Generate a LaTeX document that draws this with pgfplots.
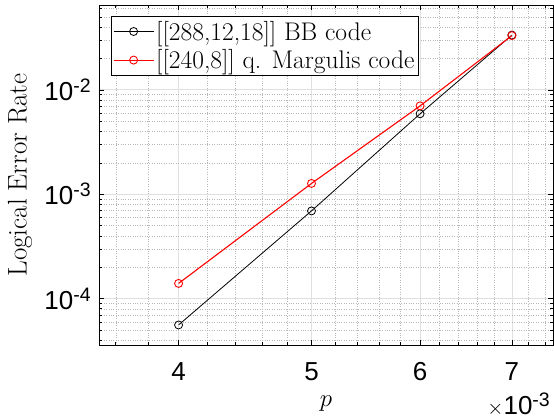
\documentclass[border=0pt]{standalone}
\usepackage{pgfplots}
\pgfplotsset{compat=1.18}
\usepackage{fontspec}
\newfontfamily\arial{Liberation Sans}
\newcommand\tickfont{\arial\fontsize{26}{26}\selectfont}
\newcommand\sups[1]{\raisebox{8pt}{\fontsize{19.5}{19.5}\selectfont #1}}

\begin{document}
\begin{tikzpicture}
    \useasboundingbox (-99pt,-74pt) rectangle (455pt,345pt);
    \begin{axis}[
            scale only axis,
            width=454pt,
            height=340pt,
            at={(0,0)}, anchor=south west,
            xmode=log, ymode=log,
            xmin=3.5e-3, xmax=7.5e-3,
            ymin=3.6e-5, ymax=0.065,
            xtick={4e-3,5e-3,6e-3,7e-3},
            xticklabels={4,5,6,7},
            minor xtick={3.6e-3,3.8e-3,4.2e-3,4.4e-3,4.6e-3,4.8e-3,5.2e-3,5.4e-3,5.6e-3,5.8e-3,6.2e-3,6.4e-3,6.6e-3,6.8e-3,7.2e-3,7.4e-3},
            ytick={1e-4,1e-3,1e-2},
            yticklabels={10\sups{-4},10\sups{-3},10\sups{-2}},
            minor ytick={4e-5,5e-5,6e-5,7e-5,8e-5,9e-5,2e-4,3e-4,4e-4,5e-4,6e-4,7e-4,8e-4,9e-4,2e-3,3e-3,4e-3,5e-3,6e-3,7e-3,8e-3,9e-3,2e-2,3e-2,4e-2,5e-2,6e-2},
            grid=both,
            major grid style={black!12, line width=0.8pt},
            minor grid style={black!28, dotted, line width=0.5pt},
            tick align=inside,
            major tick length=5pt,
            minor tick length=3pt,
            tick style={black, line width=0.6pt},
            axis line style={black, line width=0.8pt},
            ticklabel style={font=\tickfont, inner sep=0pt},
            xticklabel style={anchor=north, yshift=-17pt},
            yticklabel style={anchor=east, xshift=-8pt},
            xlabel={$p$},
            ylabel={Logical Error Rate},
            every axis x label/.style={at={(axis description cs:0.5,0)}, anchor=base, yshift=-61pt, font=\fontsize{27}{27}\selectfont},
            every axis y label/.style={at={(axis description cs:-0.174,0.5)}, anchor=center, rotate=90, font=\fontsize{27}{27}\selectfont},
            legend style={at={(rel axis cs:0.026,0.968)}, anchor=north west,
                draw=black, line width=0.6pt, fill=white,
                font=\fontsize{25.5}{28}\selectfont,
                cells={anchor=west}, inner xsep=2pt, inner ysep=3pt, row sep=4pt},
            legend image code/.code={
                \draw[mark repeat=2,mark phase=2] plot coordinates {(0pt,0pt) (20pt,0pt) (40pt,0pt)};
            },
        ]

        \addplot[black, line width=0.8pt, mark=o, mark size=4pt, mark options={solid, line width=0.8pt}] coordinates {
            (4e-3, 5.6e-5)
            (5e-3, 6.93e-4)
            (6e-3, 5.9e-3)
            (7e-3, 3.35e-2)
        };
        \addlegendentry{[[288,12,18]] BB code}

        \addplot[red, line width=1.1pt, mark=o, mark size=4pt, mark options={solid, line width=0.9pt}] coordinates {
            (4e-3, 1.40e-4)
            (5e-3, 1.27e-3)
            (6e-3, 7.03e-3)
            (7e-3, 3.31e-2)
        };
        \addlegendentry{[[240,8]] q. Margulis code}
    \end{axis}
    \node[anchor=base east, font=\tickfont, inner sep=0pt] at (451pt,-70pt) {{\fontsize{22}{22}\selectfont$\times$}10\sups{-3}};
\end{tikzpicture}
\end{document}
